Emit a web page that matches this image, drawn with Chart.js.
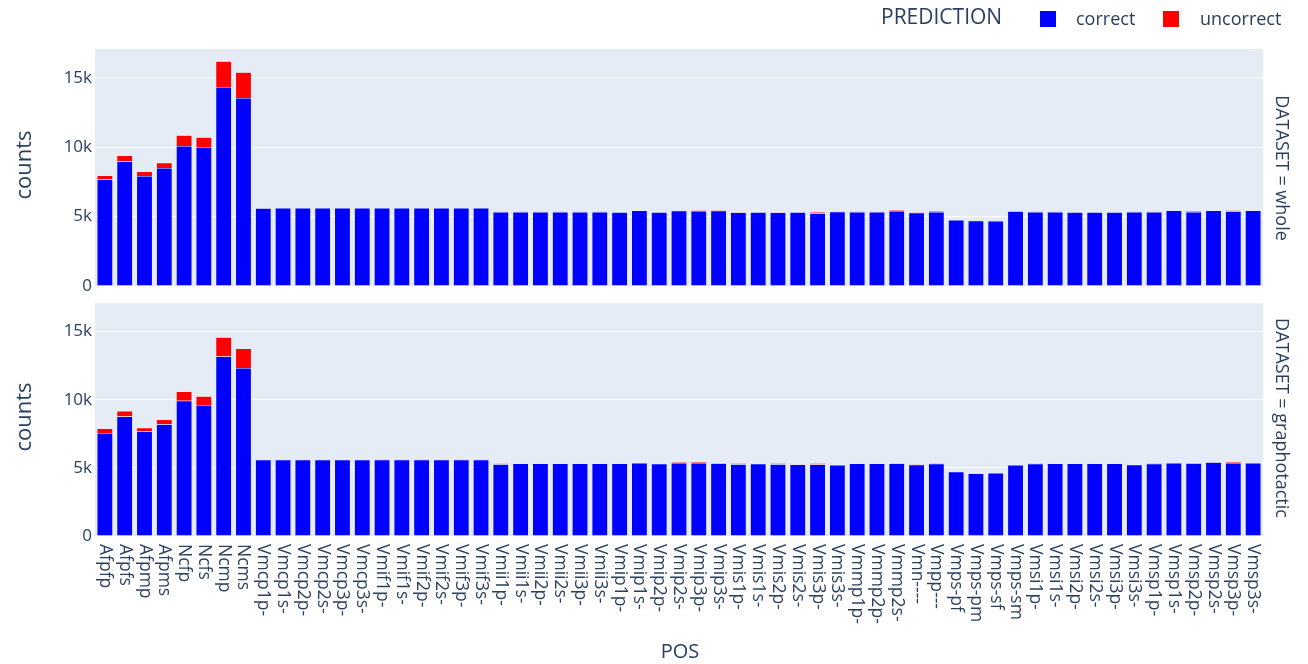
<!DOCTYPE html>
<html>
<head>
<meta charset="utf-8">
<script src="https://cdn.jsdelivr.net/npm/chart.js@4.4.1/dist/chart.umd.min.js"></script>
<style>
  body { margin: 0; background: #fff; font-family: "Open Sans", Verdana, Arial, sans-serif; color: #2a3f5f; }
  #wrap { position: relative; width: 1308px; height: 664px; overflow: hidden; }
  canvas { position: absolute; left: 0; }
  .txt { position: absolute; white-space: nowrap; line-height: 1; }
  .rot { transform: translate(-50%, -50%) rotate(-90deg); }
  .rotr { transform: translate(-50%, -50%) rotate(90deg); }
  .sw { position: absolute; width: 16px; height: 16px; }
</style>
</head>
<body>
<div id="wrap">
  <canvas id="topChart" width="1308" height="300" style="top:0"></canvas>
  <canvas id="bottomChart" width="1308" height="374" style="top:290px"></canvas>

  <div class="txt" style="left:881px; top:6px; font-size:21px;">PREDICTION</div>
  <div class="sw" style="left:1040px; top:11px; background:#0000ff;"></div>
  <div class="txt" style="left:1076px; top:9px; font-size:18px;">correct</div>
  <div class="sw" style="left:1163px; top:11px; background:#ff0000;"></div>
  <div class="txt" style="left:1200px; top:9px; font-size:18px;">uncorrect</div>

  <div class="txt rot" style="left:22px; top:165px; font-size:22px;">counts</div>
  <div class="txt rot" style="left:22px; top:417px; font-size:22px;">counts</div>
  <div class="txt rotr" style="left:1283px; top:168px; font-size:18px;">DATASET = whole</div>
  <div class="txt rotr" style="left:1283px; top:418px; font-size:18px;">DATASET = graphotactic</div>
  <div class="txt" style="left:680px; top:641px; font-size:20px; transform:translateX(-50%);">POS</div>
</div>

<script>
const categories = ['Afpfp', 'Afpfs', 'Afpmp', 'Afpms', 'Ncfp', 'Ncfs', 'Ncmp', 'Ncms',
  'Vmcp1p-', 'Vmcp1s-', 'Vmcp2p-', 'Vmcp2s-', 'Vmcp3p-', 'Vmcp3s-',
  'Vmif1p-', 'Vmif1s-', 'Vmif2p-', 'Vmif2s-', 'Vmif3p-', 'Vmif3s-',
  'Vmii1p-', 'Vmii1s-', 'Vmii2p-', 'Vmii2s-', 'Vmii3p-', 'Vmii3s-',
  'Vmip1p-', 'Vmip1s-', 'Vmip2p-', 'Vmip2s-', 'Vmip3p-', 'Vmip3s-',
  'Vmis1p-', 'Vmis1s-', 'Vmis2p-', 'Vmis2s-', 'Vmis3p-', 'Vmis3s-',
  'Vmmp1p-', 'Vmmp2p-', 'Vmmp2s-', 'Vmn----', 'Vmpp---',
  'Vmps-pf', 'Vmps-pm', 'Vmps-sf', 'Vmps-sm',
  'Vmsi1p-', 'Vmsi1s-', 'Vmsi2p-', 'Vmsi2s-', 'Vmsi3p-', 'Vmsi3s-',
  'Vmsp1p-', 'Vmsp1s-', 'Vmsp2p-', 'Vmsp2s-', 'Vmsp3p-', 'Vmsp3s-'];

// DATASET = whole
const wholeCorrect = [7690, 8970, 7930, 8510, 10090, 10020, 14350, 13550,
  5600, 5620, 5620, 5620, 5620, 5620,
  5620, 5620, 5620, 5620, 5620, 5620,
  5340, 5340, 5340, 5340, 5340, 5340,
  5320, 5440, 5320, 5430, 5400, 5420,
  5300, 5320, 5300, 5320, 5250, 5360,
  5340, 5340, 5410, 5270, 5340,
  4760, 4710, 4690, 5390,
  5340, 5340, 5320, 5320, 5320, 5340,
  5340, 5440, 5340, 5440, 5390, 5440];
const wholeUncorrect = [270, 430, 320, 380, 780, 700, 1850, 1860,
  30, 10, 10, 10, 10, 10,
  10, 10, 10, 10, 10, 10,
  10, 10, 10, 10, 10, 10,
  10, 10, 10, 20, 60, 60,
  40, 10, 40, 10, 90, 10,
  10, 10, 50, 50, 50,
  10, 10, 10, 10,
  10, 10, 10, 10, 10, 10,
  20, 10, 50, 10, 70, 10];

// DATASET = graphotactic
const graphCorrect = [7560, 8770, 7680, 8190, 9930, 9620, 13170, 12320,
  5590, 5590, 5590, 5590, 5590, 5590,
  5600, 5600, 5600, 5600, 5600, 5600,
  5270, 5320, 5320, 5320, 5320, 5320,
  5320, 5360, 5300, 5360, 5360, 5320,
  5270, 5300, 5270, 5250, 5250, 5200,
  5320, 5320, 5320, 5220, 5300,
  4710, 4590, 4620, 5200,
  5300, 5320, 5320, 5320, 5320, 5220,
  5300, 5360, 5340, 5410, 5360, 5360];
const graphUncorrect = [320, 410, 270, 360, 680, 630, 1420, 1430,
  20, 10, 10, 10, 10, 10,
  10, 10, 10, 10, 10, 10,
  50, 10, 10, 10, 10, 10,
  10, 10, 10, 50, 70, 70,
  70, 10, 70, 10, 90, 10,
  10, 10, 40, 50, 40,
  10, 10, 10, 10,
  20, 10, 10, 10, 10, 10,
  40, 10, 10, 10, 70, 10];

const yTicks = [0, 5000, 10000, 15000];
const yMax = 17080;

Chart.defaults.font.family = '"Open Sans", Verdana, Arial, sans-serif';
Chart.defaults.color = '#2a3f5f';

const plotBg = {
  id: 'plotBg',
  beforeDraw(chart) {
    const { ctx, chartArea: a } = chart;
    ctx.save();
    ctx.fillStyle = '#e5ecf6';
    ctx.fillRect(a.left, a.top, a.right - a.left, a.bottom - a.top);
    ctx.restore();
  }
};

// plotly-style x labels, rotated +90deg (reading downwards)
const xLabels = {
  id: 'xLabels',
  afterDraw(chart) {
    const { ctx, chartArea: a } = chart;
    const xs = chart.scales.x;
    ctx.save();
    ctx.font = '17.5px "Open Sans", Verdana, Arial, sans-serif';
    ctx.fillStyle = '#2a3f5f';
    ctx.textAlign = 'left';
    ctx.textBaseline = 'middle';
    categories.forEach((c, i) => {
      ctx.save();
      ctx.translate(xs.getPixelForValue(i), a.bottom + 8);
      ctx.rotate(Math.PI / 2);
      ctx.fillText(c, 0, 0);
      ctx.restore();
    });
    ctx.restore();
  }
};

function makeChart(id, correct, uncorrect, padding, showX) {
  return new Chart(document.getElementById(id), {
    type: 'bar',
    data: {
      labels: categories,
      datasets: [{
        label: 'correct',
        data: correct,
        backgroundColor: '#0000ff',
        borderColor: '#e5ecf6',
        borderWidth: 0.5,
        categoryPercentage: 0.8,
        barPercentage: 1
      }, {
        label: 'uncorrect',
        data: uncorrect,
        backgroundColor: '#ff0000',
        borderColor: '#e5ecf6',
        borderWidth: 0.5,
        categoryPercentage: 0.8,
        barPercentage: 1
      }]
    },
    options: {
      responsive: false,
      animation: false,
      layout: { padding: padding },
      plugins: { legend: { display: false }, tooltip: { enabled: false } },
      scales: {
        x: {
          stacked: true,
          display: showX,
          grid: { display: false },
          border: { display: false },
          ticks: { display: false },
          afterFit: s => { s.height = showX ? 128 : 0; }
        },
        y: {
          stacked: true,
          min: 0,
          max: yMax,
          afterFit: s => { s.width = 95; },
          afterBuildTicks: s => { s.ticks = yTicks.map(v => ({ value: v })); },
          grid: { color: '#ffffff', lineWidth: 1, drawTicks: false },
          border: { display: false },
          ticks: {
            padding: 3,
            font: { size: 17 },
            color: '#2a3f5f',
            callback: v => v === 0 ? '0' : (v / 1000) + 'k'
          }
        }
      }
    },
    plugins: showX ? [plotBg, xLabels] : [plotBg]
  });
}

makeChart('topChart', wholeCorrect, wholeUncorrect, { left: 0, right: 45, top: 49, bottom: 14 }, false);
makeChart('bottomChart', graphCorrect, graphUncorrect, { left: 0, right: 45, top: 10, bottom: 0 }, true);
</script>
</body>
</html>
